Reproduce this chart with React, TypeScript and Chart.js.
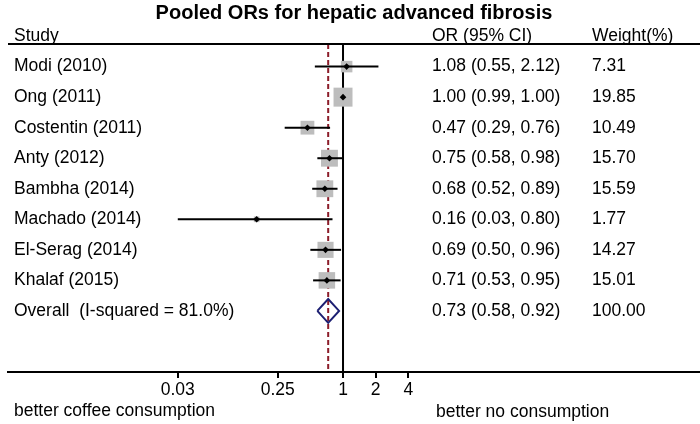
import React, { useEffect, useRef } from 'react';
import { Chart, registerables } from 'chart.js';

Chart.register(...registerables);

// ---- data ----
const studies = [
  'Modi (2010)',
  'Ong (2011)',
  'Costentin (2011)',
  'Anty (2012)',
  'Bambha (2014)',
  'Machado (2014)',
  'El-Serag (2014)',
  'Khalaf (2015)',
];
const oddsRatio = [1.08, 1.0, 0.47, 0.75, 0.68, 0.16, 0.69, 0.71];
const ciLow = [0.55, 0.99, 0.29, 0.58, 0.52, 0.03, 0.5, 0.53];
const ciHigh = [2.12, 1.0, 0.76, 0.98, 0.89, 0.8, 0.96, 0.95];
const weights = [7.31, 19.85, 10.49, 15.7, 15.59, 1.77, 14.27, 15.01];

const overallLabel = 'Overall  (I-squared = 81.0%)';
const overallOR = 0.73;
const overallLow = 0.58;
const overallHigh = 0.92;
const overallWeight = 100.0;

const tickValues = [0.03, 0.25, 1, 2, 4];
const tickLabels = ['0.03', '0.25', '1', '2', '4'];
const headers = ['Study', 'OR (95% CI)', 'Weight(%)'];
const titleText = 'Pooled ORs for hepatic advanced fibrosis';
const leftNote = 'better coffee consumption';
const rightNote = 'better no consumption';

const FONT = '"Liberation Sans", Arial, Helvetica, sans-serif';

export default function App() {
  const ref = useRef<HTMLCanvasElement>(null);

  useEffect(() => {
    document.body.style.margin = '0';
    const canvas = ref.current;
    if (!canvas) return;

    const n = studies.length;
    const Y_MIN = -0.74;
    const Y_MAX = 10;
    const BOX_K = 4.26; // box side (px) per sqrt(weight)
    const DIAMOND_HALF = 0.39; // rows

    const fmt = (v: number) => v.toFixed(2);

    const refLine = {
      label: 'null',
      data: [
        { x: 1, y: Y_MIN },
        { x: 1, y: Y_MAX },
      ],
      showLine: true,
      borderColor: '#000',
      borderWidth: 2,
      pointRadius: 0,
      order: 20,
    };
    const pooledLine = {
      label: 'pooled',
      data: [
        { x: overallOR, y: Y_MIN },
        { x: overallOR, y: Y_MAX },
      ],
      showLine: true,
      borderColor: '#8c1d2a',
      borderWidth: 2,
      borderDash: [5, 3],
      pointRadius: 0,
      order: 19,
    };
    const boxes = {
      label: 'boxes',
      data: oddsRatio.map((v, i) => ({ x: v, y: i })),
      pointStyle: 'rect',
      pointRadius: weights.map((w) => (BOX_K * Math.sqrt(w)) / Math.SQRT2),
      pointBackgroundColor: '#bdbdbd',
      pointBorderWidth: 0,
      showLine: false,
      order: 10,
    };
    const ciSets = studies.map((s, i) => ({
      label: s,
      data: [
        { x: ciLow[i], y: i },
        { x: ciHigh[i], y: i },
      ],
      showLine: true,
      borderColor: '#000',
      borderWidth: 2,
      pointRadius: 0,
      order: 6,
    }));
    const dots = {
      label: 'dots',
      data: oddsRatio.map((v, i) => ({ x: v, y: i })),
      pointStyle: 'rectRot',
      pointRadius: 3.3,
      pointBackgroundColor: '#000',
      pointBorderWidth: 0,
      showLine: false,
      order: 1,
    };
    const diamond = {
      label: 'overall',
      data: [
        { x: overallLow, y: n },
        { x: overallOR, y: n - DIAMOND_HALF },
        { x: overallHigh, y: n },
        { x: overallOR, y: n + DIAMOND_HALF },
        { x: overallLow, y: n },
      ],
      showLine: true,
      borderColor: '#1c1f72',
      borderWidth: 2,
      borderJoinStyle: 'miter',
      pointRadius: 0,
      tension: 0,
      order: 2,
    };

    const textPlugin = {
      id: 'forestText',
      afterDraw(chart: any) {
        const { ctx, chartArea } = chart;
        const y = chart.scales.y;
        ctx.save();
        ctx.fillStyle = '#000';
        ctx.textBaseline = 'middle';
        ctx.textAlign = 'left';
        ctx.font = `17.5px ${FONT}`;
        const colX = [14, 432, 592];
        const hy = y.getPixelForValue(-1);
        headers.forEach((h, k) => ctx.fillText(h, colX[k], hy));
        studies.forEach((s, i) => {
          const py = y.getPixelForValue(i);
          ctx.fillText(s, colX[0], py);
          ctx.fillText(`${fmt(oddsRatio[i])} (${fmt(ciLow[i])}, ${fmt(ciHigh[i])})`, colX[1], py);
          ctx.fillText(fmt(weights[i]), colX[2], py);
        });
        const oy = y.getPixelForValue(n);
        ctx.fillText(overallLabel, colX[0], oy);
        ctx.fillText(`${fmt(overallOR)} (${fmt(overallLow)}, ${fmt(overallHigh)})`, colX[1], oy);
        ctx.fillText(fmt(overallWeight), colX[2], oy);
        // header rule
        ctx.strokeStyle = '#000';
        ctx.lineWidth = 2;
        ctx.beginPath();
        ctx.moveTo(chartArea.left, chartArea.top);
        ctx.lineTo(chartArea.right, chartArea.top);
        ctx.stroke();
        // notes under axis
        ctx.fillText(leftNote, 14, 411);
        ctx.fillText(rightNote, 436, 412);
        ctx.restore();
      },
    };

    const chart = new Chart(canvas, {
      type: 'scatter',
      data: {
        datasets: [refLine, pooledLine, boxes, ...ciSets, dots, diamond] as any,
      },
      options: {
        animation: false,
        responsive: true,
        maintainAspectRatio: false,
        layout: { autoPadding: false, padding: { left: 8, right: 0, top: 0, bottom: 0 } },
        plugins: {
          legend: { display: false },
          tooltip: { enabled: false },
          title: {
            display: true,
            text: titleText,
            color: '#000',
            font: { family: FONT, size: 20, weight: 'bold', lineHeight: 1.2 },
            padding: { top: 1, bottom: 19 },
          },
        },
        scales: {
          x: {
            type: 'logarithmic',
            min: 0.000817,
            max: 1951,
            afterBuildTicks: (scale: any) => {
              scale.ticks = tickValues.map((v) => ({ value: v }));
            },
            afterFit: (scale: any) => {
              scale.height = 52;
            },
            ticks: {
              autoSkip: false,
              maxRotation: 0,
              padding: 2,
              color: '#000',
              font: { family: FONT, size: 17.5 },
              callback: (_v: any, i: number) => tickLabels[i],
            },
            grid: {
              display: true,
              drawOnChartArea: false,
              drawTicks: true,
              tickLength: 6,
              color: '#000',
              lineWidth: 2,
            },
            border: { display: true, color: '#000', width: 2 },
          },
          y: {
            type: 'linear',
            display: false,
            reverse: true,
            min: Y_MIN,
            max: Y_MAX,
          },
        },
      } as any,
      plugins: [textPlugin],
    });

    return () => chart.destroy();
  }, []);

  return (
    <div style={{ position: 'fixed', left: 0, top: 0, width: 700, height: 424 }}>
      <canvas ref={ref} />
    </div>
  );
}
